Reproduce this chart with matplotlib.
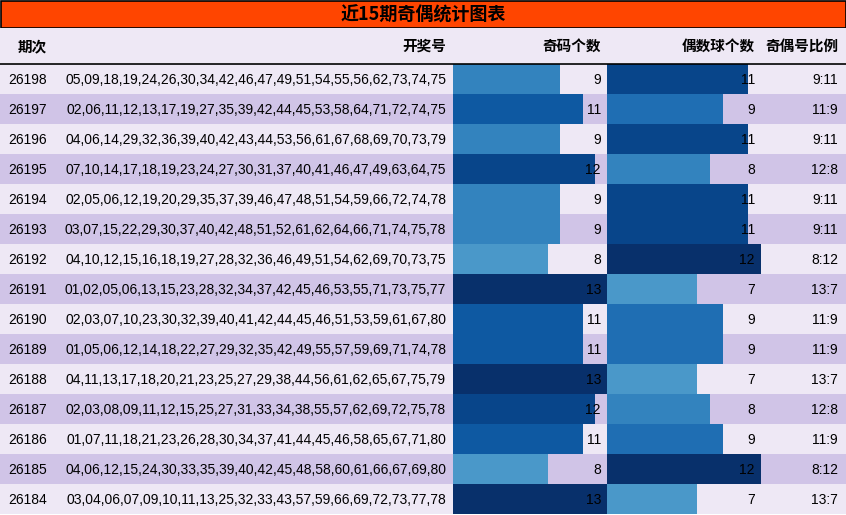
import numpy as np
import matplotlib.pyplot as plt
from matplotlib import cm
from matplotlib.patches import Rectangle

plt.rcParams['font.family'] = ['Liberation Sans', 'Noto Sans CJK SC', 'DejaVu Sans']

title = '近15期奇偶统计图表'
headers = ['期次', '开奖号', '奇码个数', '偶数球个数', '奇偶号比例']

periods = [26198, 26197, 26196, 26195, 26194, 26193, 26192, 26191,
           26190, 26189, 26188, 26187, 26186, 26185, 26184]
draws = [
    '05,09,18,19,24,26,30,34,42,46,47,49,51,54,55,56,62,73,74,75',
    '02,06,11,12,13,17,19,27,35,39,42,44,45,53,58,64,71,72,74,75',
    '04,06,14,29,32,36,39,40,42,43,44,53,56,61,67,68,69,70,73,79',
    '07,10,14,17,18,19,23,24,27,30,31,37,40,41,46,47,49,63,64,75',
    '02,05,06,12,19,20,29,35,37,39,46,47,48,51,54,59,66,72,74,78',
    '03,07,15,22,29,30,37,40,42,48,51,52,61,62,64,66,71,74,75,78',
    '04,10,12,15,16,18,19,27,28,32,36,46,49,51,54,62,69,70,73,75',
    '01,02,05,06,13,15,23,28,32,34,37,42,45,46,53,55,71,73,75,77',
    '02,03,07,10,23,30,32,39,40,41,42,44,45,46,51,53,59,61,67,80',
    '01,05,06,12,14,18,22,27,29,32,35,42,49,55,57,59,69,71,74,78',
    '04,11,13,17,18,20,21,23,25,27,29,38,44,56,61,62,65,67,75,79',
    '02,03,08,09,11,12,15,25,27,31,33,34,38,55,57,62,69,72,75,78',
    '01,07,11,18,21,23,26,28,30,34,37,41,44,45,46,58,65,67,71,80',
    '04,06,12,15,24,30,33,35,39,40,42,45,48,58,60,61,66,67,69,80',
    '03,04,06,07,09,10,11,13,25,32,33,43,57,59,66,69,72,73,77,78',
]
odd_counts = [9, 11, 9, 12, 9, 9, 8, 13, 11, 11, 13, 12, 11, 8, 13]
even_counts = [11, 9, 11, 8, 11, 11, 12, 7, 9, 9, 7, 8, 9, 12, 7]
ratios = [f'{o}:{e}' for o, e in zip(odd_counts, even_counts)]

W, H = 846, 515
fig = plt.figure(figsize=(W / 100, H / 100), dpi=100)
ax = fig.add_axes([0, 0, 1, 1])
ax.set_xlim(0, W)
ax.set_ylim(H, 0)
ax.axis('off')

light = '#EEE8F5'
dark = '#D0C4E7'
cjk = ['Noto Sans CJK SC', 'DejaVu Sans']

# title bar + header
ax.add_patch(Rectangle((0.5, 0.5), W - 1, 27, facecolor='#FF4500', edgecolor='black', lw=1.2))
ax.text(W / 2, 15, title, ha='center', va='center', fontsize=13, fontweight='bold', family=cjk)
ax.add_patch(Rectangle((0, 28), W, 35, facecolor=light, edgecolor='none'))
ax.plot([0, W], [63.5, 63.5], color='black', lw=1.2)

hx = [18, 446, 601, 755, 838]
for i, (h, x) in enumerate(zip(headers, hx)):
    ax.text(x, 46, h, ha='left' if i == 0 else 'right', va='center',
            fontsize=10.5, fontweight='bold', family=cjk)

# rows
row_top, row_h = 64, 30
n = len(periods)
y = row_top + row_h * (np.arange(n) + 0.5)
bg = [light if i % 2 == 0 else dark for i in range(n)]
ax.barh(y, W, height=row_h, left=0, color=bg, edgecolor='none')

col_w = 154
odd_x, even_x = 453, 607


def bar_colors(vals):
    v = np.array(vals, dtype=float)
    t = (v - v.min()) / (v.max() - v.min())
    return [cm.Blues(0.6 + 0.4 * k) for k in t]


odd_arr = np.array(odd_counts)
even_arr = np.array(even_counts)
ax.barh(y, odd_arr / odd_arr.max() * col_w, height=row_h, left=odd_x,
        color=bar_colors(odd_counts), edgecolor='none')
ax.barh(y, even_arr / even_arr.max() * col_w, height=row_h, left=even_x,
        color=bar_colors(even_counts), edgecolor='none')

fs = 10
for i in range(n):
    yy = y[i] + 0.5
    ax.text(8, yy, str(periods[i]), ha='left', va='center', fontsize=fs)
    ax.text(446, yy, draws[i], ha='right', va='center', fontsize=fs)
    ax.text(601, yy, str(odd_counts[i]), ha='right', va='center', fontsize=fs)
    ax.text(755, yy, str(even_counts[i]), ha='right', va='center', fontsize=fs)
    ax.text(838, yy, ratios[i], ha='right', va='center', fontsize=fs)

fig.savefig('out.png', dpi=100)
